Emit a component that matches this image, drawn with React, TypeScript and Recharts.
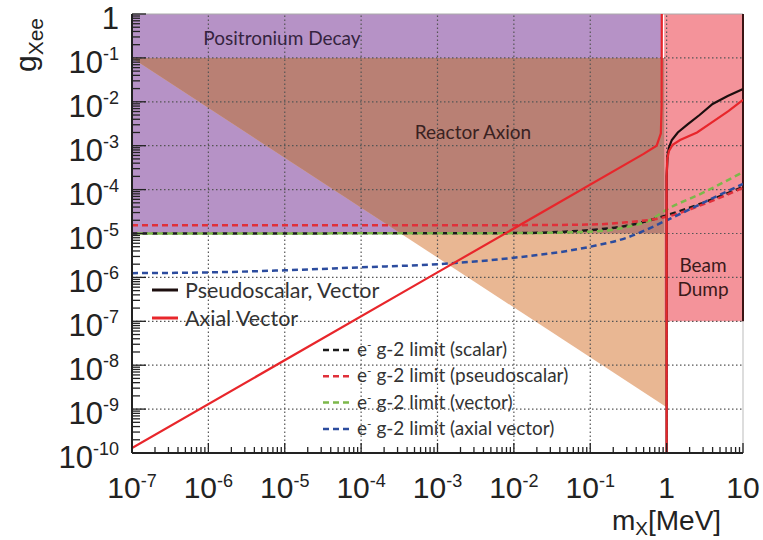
import React from 'react';
import { ComposedChart, Line, Area, XAxis, YAxis, ReferenceLine } from 'recharts';

// axis decades and their labels
const X_TICKS = [1e-7, 1e-6, 1e-5, 1e-4, 1e-3, 1e-2, 1e-1, 1, 10];
const X_TICK_LABELS = [['10', '-7'], ['10', '-6'], ['10', '-5'], ['10', '-4'], ['10', '-3'], ['10', '-2'], ['10', '-1'], ['1', ''], ['10', '']];
const Y_TICKS = [1e-10, 1e-9, 1e-8, 1e-7, 1e-6, 1e-5, 1e-4, 1e-3, 1e-2, 1e-1, 1];
const Y_TICK_LABELS = [['10', '-10'], ['10', '-9'], ['10', '-8'], ['10', '-7'], ['10', '-6'], ['10', '-5'], ['10', '-4'], ['10', '-3'], ['10', '-2'], ['10', '-1'], ['1', '']];

// excluded regions: [x, [low, high]]
const POSITRONIUM = [[1e-7, [1e-5, 1]], [0.87, [1e-5, 1]]];
const BEAM_DUMP = [[0.93, [1e-7, 1]], [10, [1e-7, 1]]];
const REACTOR_TOP = 1e-1;
const REACTOR_EDGE = [[1e-7, 1e-1], [1, 1.1e-9]];
const POSITRONIUM_FLOOR = 1e-5;

// limits (x [MeV], g_Xee)
const AXIAL_LOW = [[1e-7, 1.3e-10], [1e-3, 1.3e-6], [0.5, 6.5e-4], [0.74, 1.0e-3], [0.84, 1.9e-3], [0.86, 8e-3], [0.865, 1]];
const AXIAL_HIGH = [[1.0, 1e-10], [1.0, 2e-4], [1.02, 5e-4], [1.07, 7.5e-4], [1.2, 1.05e-3], [1.5, 1.35e-3], [2.5, 2.0e-3], [4, 3.5e-3], [6.5, 6.2e-3], [10, 1.1e-2]];
const PSEUDO_HIGH = [[1.0, 1e-10], [1.0, 2e-4], [1.03, 6e-4], [1.07, 9e-4], [1.17, 1.35e-3], [1.4, 2e-3], [1.9, 3.1e-3], [2.7, 5e-3], [4, 8.9e-3], [6.3, 1.36e-2], [10, 1.95e-2]];
const G2_SCALAR = [[1e-7, 1.0e-5], [1e-2, 1.02e-5], [0.1, 1.2e-5], [0.3, 1.5e-5], [1, 2.6e-5], [3, 5e-5], [10, 1.15e-4]];
const G2_PSEUDO = [[1e-7, 1.55e-5], [1e-2, 1.55e-5], [0.1, 1.6e-5], [0.3, 1.8e-5], [1, 2.4e-5], [3, 4.6e-5], [10, 1.1e-4]];
const G2_VECTOR = [[1e-7, 1.0e-5], [1e-2, 1.02e-5], [0.1, 1.1e-5], [0.3, 1.4e-5], [0.6, 2e-5], [1, 3.5e-5], [3, 8.5e-5], [10, 2.5e-4]];
const G2_AXIAL = [[1e-7, 1.25e-6], [1e-6, 1.3e-6], [1e-5, 1.45e-6], [1e-4, 1.7e-6], [1e-3, 2.0e-6], [1e-2, 2.8e-6], [0.1, 5e-6], [0.3, 8e-6], [1, 2e-5], [3, 5e-5], [10, 1.35e-4]];

const LEGEND_MAIN = [
  { label: 'Pseudoscalar, Vector', color: '#1c0e0e' },
  { label: 'Axial Vector', color: '#e8262b' },
];
const LEGEND_G2 = [
  { label: 'scalar', color: '#1a1a1a' },
  { label: 'pseudoscalar', color: '#e0303a' },
  { label: 'vector', color: '#7cb84a' },
  { label: 'axial vector', color: '#2c4c9e' },
];

// where the reactor edge drops below the positronium floor (log-space)
const lx0 = Math.log10(REACTOR_EDGE[0][0]), ly0 = Math.log10(REACTOR_EDGE[0][1]);
const lx1 = Math.log10(REACTOR_EDGE[1][0]), ly1 = Math.log10(REACTOR_EDGE[1][1]);
const crossX = Math.pow(10, lx0 + ((Math.log10(POSITRONIUM_FLOOR) - ly0) / (ly1 - ly0)) * (lx1 - lx0));

const REACTOR = REACTOR_EDGE.map(([x, y]) => [x, [y, REACTOR_TOP]]);
const OVERLAP = [
  [REACTOR_EDGE[0][0], [REACTOR_EDGE[0][1], REACTOR_TOP]],
  [crossX, [POSITRONIUM_FLOOR, REACTOR_TOP]],
  [REACTOR_EDGE[1][0], [POSITRONIUM_FLOOR, REACTOR_TOP]],
];

const rows: any[] = [];
const add = (key: string, pts: any[]) => pts.forEach(([x, y]) => rows.push({ x, [key]: y }));
add('positronium', POSITRONIUM);
add('reactor', REACTOR);
add('overlap', OVERLAP);
add('beam', BEAM_DUMP);
add('axialLow', AXIAL_LOW);
add('axialHigh', AXIAL_HIGH);
add('pseudoHigh', PSEUDO_HIGH);
add('g2Scalar', G2_SCALAR);
add('g2Pseudo', G2_PSEUDO);
add('g2Vector', G2_VECTOR);
add('g2Axial', G2_AXIAL);
rows.sort((a, b) => a.x - b.x);

const minors = (decades: number[]) => {
  const out: number[] = [];
  decades.slice(0, -1).forEach((d) => {
    for (let m = 2; m <= 9; m++) out.push(m * d);
  });
  return out;
};
const X_ALL = [...X_TICKS, ...minors(X_TICKS)].sort((a, b) => a - b);
const Y_ALL = [...Y_TICKS, ...minors(Y_TICKS)].sort((a, b) => a - b);

const AXIS_FONT = 'Liberation Sans, Arial, sans-serif';
const TEXT_FONT = 'Lato, Open Sans, sans-serif';

const findMajor = (list: number[], v: number) =>
  list.findIndex((t) => Math.abs(Math.log10(t) - Math.log10(v)) < 1e-6);

const XTick = (props: any) => {
  const { x, y, payload } = props;
  const idx = findMajor(X_TICKS, payload.value);
  const lab = idx >= 0 ? X_TICK_LABELS[idx] : null;
  return (
    <g>
      <line x1={x} y1={y} x2={x} y2={y - (lab ? 10 : 6)} stroke="#222" strokeWidth={1.3} />
      {lab && (
        <text x={x} y={y + 45} textAnchor="middle" fontFamily={AXIS_FONT} fontSize={30} fill="#222">
          {lab[0]}
          {lab[1] && <tspan dy={-11} fontSize={18}>{lab[1]}</tspan>}
        </text>
      )}
    </g>
  );
};

const YTick = (props: any) => {
  const { x, y, payload } = props;
  const idx = findMajor(Y_TICKS, payload.value);
  const lab = idx >= 0 ? Y_TICK_LABELS[idx] : null;
  return (
    <g>
      <line x1={x} y1={y} x2={x + (lab ? 14 : 8)} y2={y} stroke="#222" strokeWidth={1.3} />
      {lab && (
        <text x={x - 13} y={y + 15} textAnchor="end" fontFamily={AXIS_FONT} fontSize={31} fill="#222">
          {lab[0]}
          {lab[1] && <tspan dy={-13} fontSize={18}>{lab[1]}</tspan>}
        </text>
      )}
    </g>
  );
};

const gridProps = { stroke: '#555', strokeDasharray: '1.5 2.5', strokeWidth: 1.2 };

export default function App() {
  return (
    <div style={{ position: 'absolute', left: 0, top: 0, width: 763, height: 540, background: '#fff' }}>
      <ComposedChart width={763} height={540} data={rows} margin={{ top: 14, right: 20, bottom: 0, left: 0 }}>
        <XAxis
          dataKey="x"
          type="number"
          scale="log"
          domain={[1e-7, 10]}
          allowDataOverflow
          ticks={X_ALL}
          interval={0}
          height={87}
          tickSize={0}
          tickMargin={0}
          tick={<XTick />}
          tickLine={false}
          axisLine={{ stroke: '#222', strokeWidth: 2 }}
        />
        <YAxis
          type="number"
          scale="log"
          domain={[1e-10, 1]}
          allowDataOverflow
          ticks={Y_ALL}
          interval={0}
          width={132}
          tickSize={0}
          tickMargin={0}
          tick={<YTick />}
          tickLine={false}
          axisLine={{ stroke: '#222', strokeWidth: 2 }}
        />
        <Area dataKey="positronium" type="linear" fill="#b692c6" fillOpacity={1} stroke="none" connectNulls isAnimationActive={false} dot={false} activeDot={false} />
        <Area dataKey="reactor" type="linear" fill="#e9b793" fillOpacity={1} stroke="none" connectNulls isAnimationActive={false} dot={false} activeDot={false} />
        <Area dataKey="overlap" type="linear" fill="#b98074" fillOpacity={1} stroke="none" connectNulls isAnimationActive={false} dot={false} activeDot={false} />
        <Area dataKey="beam" type="linear" fill="#f4939a" fillOpacity={1} stroke="none" connectNulls isAnimationActive={false} dot={false} activeDot={false} />

        {X_TICKS.slice(1, -1).map((v) => (
          <ReferenceLine key={'gx' + v} x={v} {...gridProps} />
        ))}
        {Y_TICKS.slice(1, -1).map((v) => (
          <ReferenceLine key={'gy' + v} y={v} {...gridProps} />
        ))}
        <ReferenceLine y={1} stroke="#aaa" strokeWidth={1} />
        <ReferenceLine segment={[{ x: 10, y: 1e-10 }, { x: 10, y: 1e-7 }]} stroke="#bbb" strokeWidth={1} />
        <ReferenceLine segment={[{ x: 10, y: 1e-7 }, { x: 10, y: 1 }]} stroke="#3a1414" strokeWidth={2} />

        <Line dataKey="g2Scalar" type="monotone" stroke={LEGEND_G2[0].color} strokeWidth={2.5} strokeDasharray="6 4" dot={false} connectNulls isAnimationActive={false} />
        <Line dataKey="g2Vector" type="monotone" stroke={LEGEND_G2[2].color} strokeWidth={2.5} strokeDasharray="6 4" strokeDashoffset={5} dot={false} connectNulls isAnimationActive={false} />
        <Line dataKey="g2Pseudo" type="monotone" stroke={LEGEND_G2[1].color} strokeWidth={2.5} strokeDasharray="6 4" dot={false} connectNulls isAnimationActive={false} />
        <Line dataKey="g2Axial" type="monotone" stroke={LEGEND_G2[3].color} strokeWidth={2.5} strokeDasharray="6 4" dot={false} connectNulls isAnimationActive={false} />
        <Line dataKey="pseudoHigh" type="linear" stroke={LEGEND_MAIN[0].color} strokeWidth={2.2} dot={false} connectNulls isAnimationActive={false} />
        <Line dataKey="axialHigh" type="linear" stroke={LEGEND_MAIN[1].color} strokeWidth={2.2} dot={false} connectNulls isAnimationActive={false} />
        <Line dataKey="axialLow" type="linear" stroke={LEGEND_MAIN[1].color} strokeWidth={2.2} dot={false} connectNulls isAnimationActive={false} />
      </ComposedChart>

      <svg width={763} height={540} style={{ position: 'absolute', left: 0, top: 0, pointerEvents: 'none' }}>
        <text x={282} y={45} textAnchor="middle" fontFamily={TEXT_FONT} fontSize={19} fill="#35243f">Positronium Decay</text>
        <text x={473} y={139} textAnchor="middle" fontFamily={TEXT_FONT} fontSize={19} fill="#3a2222">Reactor Axion</text>
        <text x={703} y={272} textAnchor="middle" fontFamily={TEXT_FONT} fontSize={19} fill="#3a1a1a">Beam</text>
        <text x={703} y={296} textAnchor="middle" fontFamily={TEXT_FONT} fontSize={19} fill="#3a1a1a">Dump</text>

        {LEGEND_MAIN.map((e, i) => (
          <g key={e.label}>
            <line x1={152} x2={178} y1={290 + i * 28} y2={290 + i * 28} stroke={e.color} strokeWidth={3} />
            <text x={185} y={298 + i * 28} fontFamily={TEXT_FONT} fontSize={21.5} fill="#333">{e.label}</text>
          </g>
        ))}
        {LEGEND_G2.map((e, i) => (
          <g key={e.label}>
            <line x1={323} x2={351} y1={350 + i * 26.3} y2={350 + i * 26.3} stroke={e.color} strokeWidth={2.5} strokeDasharray="6 4" />
            <text x={357} y={356 + i * 26.3} fontFamily={TEXT_FONT} fontSize={19} fill="#333">
              e<tspan dy={-7} fontSize={12}>-</tspan>
              <tspan dy={7}> g-2 limit ({e.label})</tspan>
            </text>
          </g>
        ))}

        <text transform="translate(36,72) rotate(-90)" fontFamily={AXIS_FONT} fontSize={30} fill="#222">
          g<tspan dy={7} fontSize={21}>Xee</tspan>
        </text>
        <text x={612} y={530} fontFamily={AXIS_FONT} fontSize={28} fill="#222">
          m<tspan dy={5} fontSize={19}>X</tspan>
          <tspan dy={-5}>[MeV]</tspan>
        </text>
      </svg>
    </div>
  );
}
